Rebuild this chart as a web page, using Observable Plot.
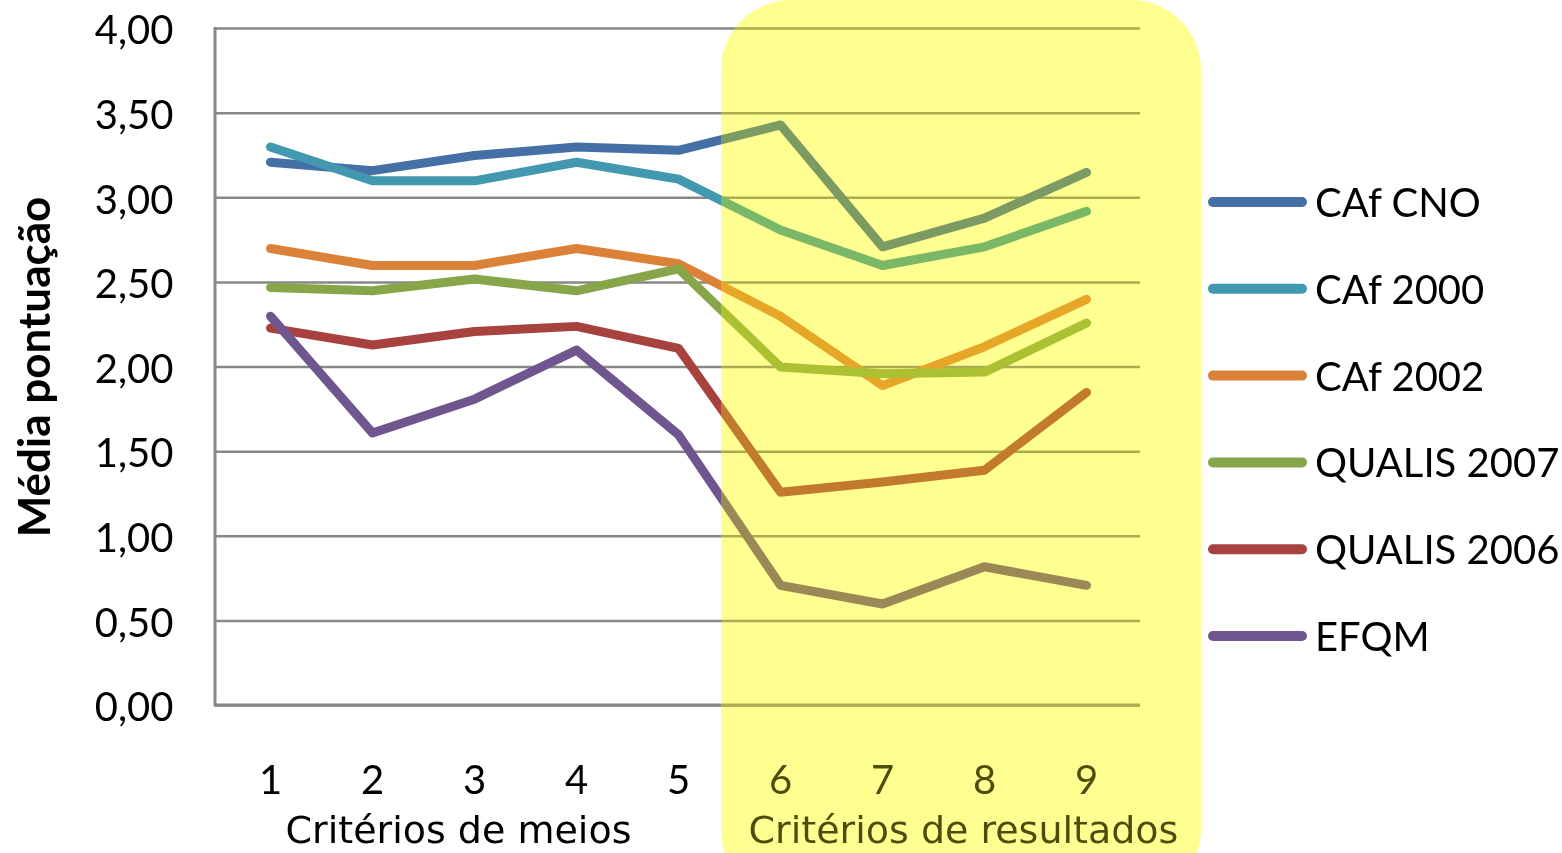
<!DOCTYPE html>
<html>
<head>
<meta charset="utf-8">
<script src="https://cdn.jsdelivr.net/npm/d3@7"></script>
<script src="https://cdn.jsdelivr.net/npm/@observablehq/plot@0.6"></script>
<style>
  html, body { margin: 0; padding: 0; background: #fff; }
  #chart svg { display: block; }
</style>
</head>
<body>
<div id="chart"></div>
<script>
const criteria = ["1", "2", "3", "4", "5", "6", "7", "8", "9"];
const seriesNames = ["CAf CNO", "CAf 2000", "CAf 2002", "QUALIS 2007", "QUALIS 2006", "EFQM"];
const seriesColors = ["#4470a6", "#4198af", "#db8138", "#87a64a", "#a8423f", "#6f568f"];
const cafCNO     = [3.21, 3.16, 3.25, 3.30, 3.28, 3.43, 2.71, 2.88, 3.15];
const caf2000    = [3.30, 3.10, 3.10, 3.21, 3.11, 2.81, 2.60, 2.71, 2.92];
const caf2002    = [2.70, 2.60, 2.60, 2.70, 2.61, 2.30, 1.89, 2.12, 2.40];
const qualis2007 = [2.47, 2.45, 2.52, 2.45, 2.58, 2.00, 1.96, 1.97, 2.26];
const qualis2006 = [2.23, 2.13, 2.21, 2.24, 2.11, 1.26, 1.32, 1.39, 1.85];
const efqm       = [2.30, 1.61, 1.81, 2.10, 1.60, 0.71, 0.60, 0.82, 0.71];
const yTicks = [0, 0.5, 1, 1.5, 2, 2.5, 3, 3.5, 4];
const yTitle = "Média pontuação";
const groupMeios = "Critérios de meios";
const groupResultados = "Critérios de resultados";

const allValues = [cafCNO, caf2000, caf2002, qualis2007, qualis2006, efqm];
const rows = [];
seriesNames.forEach((name, i) => {
  criteria.forEach((c, j) => rows.push({series: name, criterio: c, value: allValues[i][j]}));
});

const fmt = v => v.toFixed(2).replace(".", ",");
const font = "Lato, 'Open Sans', sans-serif";
const groupFont = "'DejaVu Sans', Verdana, sans-serif";

const plot = Plot.plot({
  width: 1562,
  height: 853,
  marginLeft: 215,
  marginRight: 422,
  marginTop: 28,
  marginBottom: 148,
  style: {fontFamily: font, fontSize: "40px", color: "#000", background: "#fff"},
  x: {type: "point", domain: criteria, padding: 0.5},
  y: {domain: [0, 4]},
  color: {domain: seriesNames, range: seriesColors},
  marks: [
    Plot.ruleY(yTicks, {stroke: "#878787", strokeWidth: 2.5}),
    Plot.axisY({ticks: yTicks, tickFormat: fmt, tickSize: 0, tickPadding: 42, label: null, dy: 3, fontSize: 40}),
    Plot.axisX({tickSize: 0, tickPadding: 60, label: null, fontSize: 40}),
    Plot.text([yTitle], {frameAnchor: "left", textAnchor: "middle", dx: -180, rotate: -90, fontWeight: "bold", fontSize: 44, text: d => d}),
    Plot.text([{c: "3", t: groupMeios}], {x: "c", text: "t", frameAnchor: "bottom", lineAnchor: "middle", dy: 125, dx: -16, fontFamily: groupFont, fontSize: 38}),
    Plot.text([{c: "8", t: groupResultados}], {x: "c", text: "t", frameAnchor: "bottom", lineAnchor: "middle", dy: 125, dx: -21, fontFamily: groupFont, fontSize: 38}),
    Plot.line(rows, {x: "criterio", y: "value", z: "series", stroke: "series", strokeWidth: 9, strokeLinecap: "round", strokeLinejoin: "round"})
  ]
});

const svg = d3.select(plot);
const xs = plot.scale("x");
const ys = plot.scale("y");
const x0 = 215, x1 = 1562 - 422;
// left axis line
svg.append("line")
  .attr("x1", x0).attr("x2", x0)
  .attr("y1", ys.apply(4) - 1).attr("y2", ys.apply(0) + 1.5)
  .attr("stroke", "#878787").attr("stroke-width", 3);
// baseline
svg.append("line")
  .attr("x1", x0).attr("x2", x1)
  .attr("y1", ys.apply(0)).attr("y2", ys.apply(0))
  .attr("stroke", "#878787").attr("stroke-width", 3);

// legend
const lg = svg.append("g").attr("text-anchor", "start");
seriesNames.forEach((name, i) => {
  const y = 202 + i * 86.8;
  lg.append("line")
    .attr("x1", 1213).attr("x2", 1302).attr("y1", y).attr("y2", y)
    .attr("stroke", seriesColors[i]).attr("stroke-width", 10).attr("stroke-linecap", "round");
  lg.append("text")
    .attr("x", 1315).attr("y", y + 15)
    .attr("text-anchor", "start")
    .attr("font-family", font).attr("font-size", 40).attr("fill", "#000")
    .text(name);
});

// yellow highlight over "Critérios de resultados"
const left = xs.apply("6") - 59;
svg.append("rect")
  .attr("x", left).attr("y", 0)
  .attr("width", 1201 - left).attr("height", 900)
  .attr("rx", 70).attr("ry", 70)
  .attr("fill", "rgb(255,255,193)")
  .style("mix-blend-mode", "multiply");
svg.append("rect")
  .attr("x", left).attr("y", 0)
  .attr("width", 1201 - left).attr("height", 900)
  .attr("rx", 70).attr("ry", 70)
  .attr("fill", "rgb(255,255,36)").attr("fill-opacity", 0.3);

document.getElementById("chart").appendChild(plot);
</script>
</body>
</html>
